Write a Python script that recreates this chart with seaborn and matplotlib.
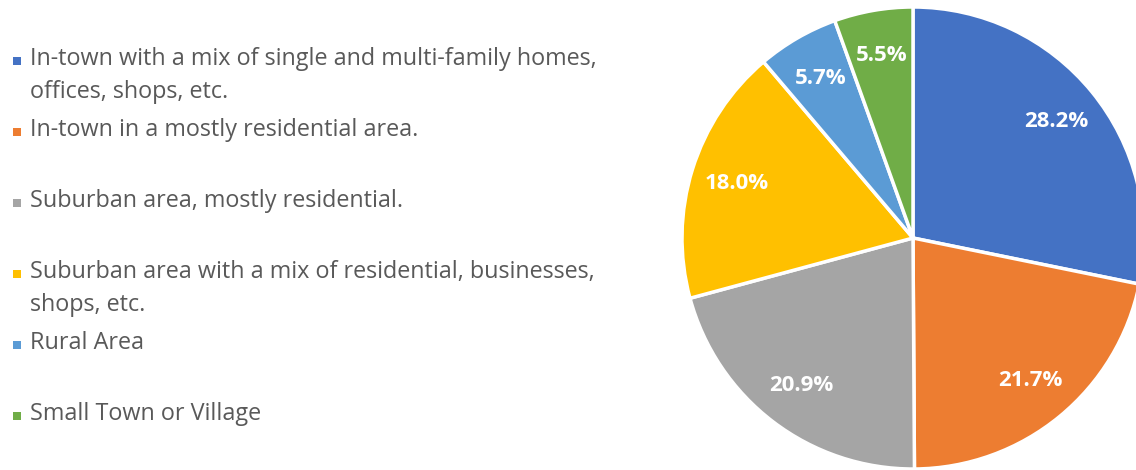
import matplotlib
matplotlib.use("Agg")
import matplotlib.pyplot as plt
from matplotlib.patches import Rectangle
import seaborn as sns

categories = [
    "In-town with a mix of single and multi-family homes,\noffices, shops, etc.",
    "In-town in a mostly residential area.",
    "Suburban area, mostly residential.",
    "Suburban area with a mix of residential, businesses,\nshops, etc.",
    "Rural Area",
    "Small Town or Village",
]
values = [28.2, 21.7, 20.9, 18.0, 5.7, 5.5]
colors = ["#4472C4", "#ED7D31", "#A5A5A5", "#FFC000", "#5B9BD5", "#70AD47"]

sns.set_theme(style="white")
plt.rcParams["font.family"] = ["Open Sans", "DejaVu Sans"]
palette = sns.color_palette(colors)

W, H = 1136, 470
fig = plt.figure(figsize=(W / 100, H / 100), dpi=100)
fig.patch.set_facecolor("white")

# pie axes: center (913, 238) px, radius ~231 px
cx, cy, r = 913, 238, 231
ax = fig.add_axes([(cx - r) / W, (H - cy - r) / H, 2 * r / W, 2 * r / H])
wedges, texts, autotexts = ax.pie(
    values,
    colors=palette,
    startangle=90,
    counterclock=False,
    autopct="%.1f%%",
    pctdistance=0.8,
    wedgeprops=dict(edgecolor="white", linewidth=2.5),
    textprops=dict(color="white", fontsize=16, fontweight="bold"),
)
ax.set_aspect("equal")
ax.set_xlim(-1, 1)
ax.set_ylim(-1, 1)

# legend entries (equal-height slots, text top-aligned)
slot_top = 47
slot_h = 71
for i, (lab, col) in enumerate(zip(categories, palette)):
    y = slot_top + i * slot_h
    fig.text(30 / W, 1 - y / H, lab, ha="left", va="top", fontsize=16.8,
             color="#595959", linespacing=1.5)
    ysq = y + 14
    fig.patches.append(Rectangle((13 / W, 1 - (ysq + 4) / H), 8 / W, 8 / H,
                                 transform=fig.transFigure, facecolor=col,
                                 edgecolor="none"))

fig.savefig("out.png", dpi=100)
